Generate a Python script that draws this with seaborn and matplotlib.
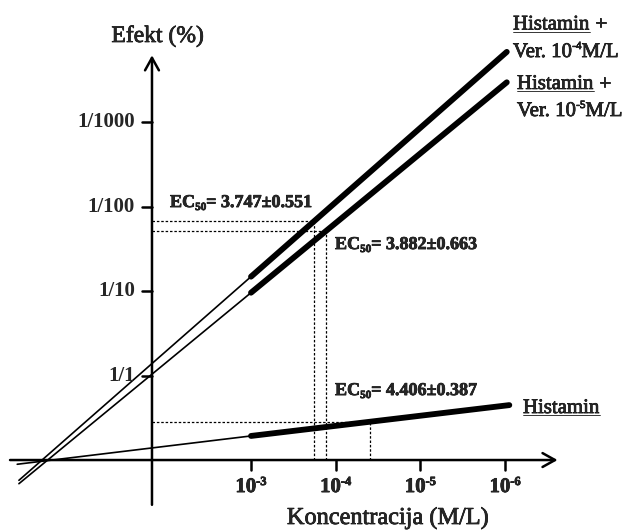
import numpy as np
import pandas as pd
import matplotlib
matplotlib.use("Agg")
import matplotlib.pyplot as plt
import matplotlib.patheffects as pe
import seaborn as sns

# Concentration axis in decades (3 -> 10^-3 M/L ... 6 -> 10^-6 M/L),
# effect axis in decades (1 -> 1/1 ... 4 -> 1/1000).
x_tick_pos = [3, 4, 5, 6]
x_tick_exp = ["-3", "-4", "-5", "-6"]
y_tick_pos = [1, 2, 3, 4]
y_tick_labels = ["1/1", "1/10", "1/100", "1/1000"]

# Regression lines: extrapolated start, first and last measured dose
hist_x = [0.24, 3.0, 6.05]
hist_y = [-0.05, 0.285, 0.65]
ver4_x = [0.26, 3.0, 6.02]
ver4_y = [-0.24, 2.17, 4.83]
ver5_x = [0.26, 3.0, 6.02]
ver5_y = [-0.28, 1.98, 4.47]

# EC50 (mean, SD) for Ver. 10^-4, Ver. 10^-5 and histamine alone
ec50 = [3.747, 3.882, 4.406]
ec50_sd = [0.551, 0.663, 0.387]

sns.set_theme(style="white")
plt.rcParams["font.family"] = ["Liberation Serif", "DejaVu Serif"]

fig = plt.figure(figsize=(6.24, 5.30), dpi=100)
ax = fig.add_axes([0, 0, 1, 1])
ax.set_xlim(0.0366, 7.404)
ax.set_ylim(-0.828, 5.444)
ax.set_axis_off()
renderer = fig.canvas.get_renderer()

heavy = [pe.withStroke(linewidth=0.5, foreground="black")]

# long table: thin extrapolated part + thick measured part of each line
rows = []
for name, xs, ys in [("hist", hist_x, hist_y), ("ver4", ver4_x, ver4_y),
                     ("ver5", ver5_x, ver5_y)]:
    for seg, idx in [("extrap", (0, 1)), ("measured", (1, 2))]:
        for i in idx:
            rows.append({"unit": f"{name}-{seg}", "segment": seg,
                         "x": xs[i], "y": ys[i]})
df = pd.DataFrame(rows)

sns.lineplot(data=df, x="x", y="y", units="unit", size="segment",
             sizes={"extrap": 1.2, "measured": 4.2}, estimator=None,
             sort=False, color="black", legend=False, ax=ax,
             solid_capstyle="round")


def draw_parts(x, y, parts, ha="left"):
    """Lay out text runs (text, size, weight, rise_px) along one baseline."""
    items = []
    for s, size, weight, rise in parts:
        t = ax.text(0, 0, s, fontsize=size, fontweight=weight, ha="left",
                    va="baseline", path_effects=heavy)
        items.append((t, rise, t.get_window_extent(renderer).width))
    total = sum(w for _, _, w in items)
    px, py = ax.transData.transform((x, y))
    if ha == "center":
        px -= total / 2
    elif ha == "right":
        px -= total
    cur = px
    inv = ax.transData.inverted()
    spans = []
    for t, rise, w in items:
        t.set_position(inv.transform((cur, py + rise)))
        spans.append((inv.transform((cur, py))[0],
                      inv.transform((cur + w, py))[0]))
        cur += w
    return spans


X0 = 1.831   # position of the effect axis
lw_axis = 1.8
arrow = dict(arrowstyle="->,head_length=0.45,head_width=0.25", lw=lw_axis,
             color="black", shrinkA=0, shrinkB=0, mutation_scale=20)
ax.annotate("", xy=(6.62, 0), xytext=(0.155, 0), arrowprops=arrow)
ax.annotate("", xy=(X0, 4.79), xytext=(X0, -0.53), arrowprops=arrow)

for p, lab in zip(y_tick_pos, y_tick_labels):
    ax.plot([X0 - 0.118, X0], [p, p], color="black", lw=lw_axis)
    ax.text(1.630, p, lab, ha="right", va="center", fontsize=15,
            fontweight="bold")
for p, e in zip(x_tick_pos, x_tick_exp):
    ax.plot([p, p], [0, -0.118], color="black", lw=lw_axis)
    draw_parts(p, -0.379, [("10", 15, "bold", 0), (e, 9, "bold", 7)],
               ha="center")

ax.text(1.896, 4.947, "Efekt (%)", ha="center", va="baseline", fontsize=17,
        path_effects=heavy)
ax.text(4.617, -0.757, "Koncentracija (M/L)", ha="center", va="baseline",
        fontsize=17.5, path_effects=heavy)

# dotted EC50 guides down to the concentration axis and across to the effect axis
for ec, xs, ys in zip(ec50, [ver4_x, ver5_x, hist_x], [ver4_y, ver5_y, hist_y]):
    yv = np.interp(ec, xs, ys)
    ax.plot([X0, ec], [yv, yv], color="black", lw=0.9, ls=(0, (2, 1.5)))
    ax.plot([ec, ec], [0, yv], color="black", lw=0.9, ls=(0, (2, 1.5)))

ec_pos = [(2.044, 2.994), (3.992, 2.497), (3.992, 0.769)]
for (tx, ty), m, s in zip(ec_pos, ec50, ec50_sd):
    draw_parts(tx, ty, [("EC", 13, "bold", 0), ("50", 8, "bold", -3),
                        (f"= {m:.3f}\u00b1{s:.3f}", 13, "bold", 0)])

# series labels with underlined "Histamin"
for lx, ly, tail in [(6.093, 5.095, " +"), (6.14, 4.391, " +"),
                     (6.211, 0.556, "")]:
    runs = [("Histamin", 15, "normal", 0)]
    if tail:
        runs.append((tail, 15, "normal", 0))
    spans = draw_parts(lx, ly, runs)
    ax.plot(spans[0], [ly - 0.025, ly - 0.025], color="black", lw=0.55)

for lx, ly, e in [(6.093, 4.769, "-4"), (6.14, 4.071, "-5")]:
    draw_parts(lx, ly, [("Ver. 10", 15, "normal", 0), (e, 8, "normal", 8),
                        ("M/L", 15, "normal", 0)])

fig.savefig("out.png", dpi=100)
